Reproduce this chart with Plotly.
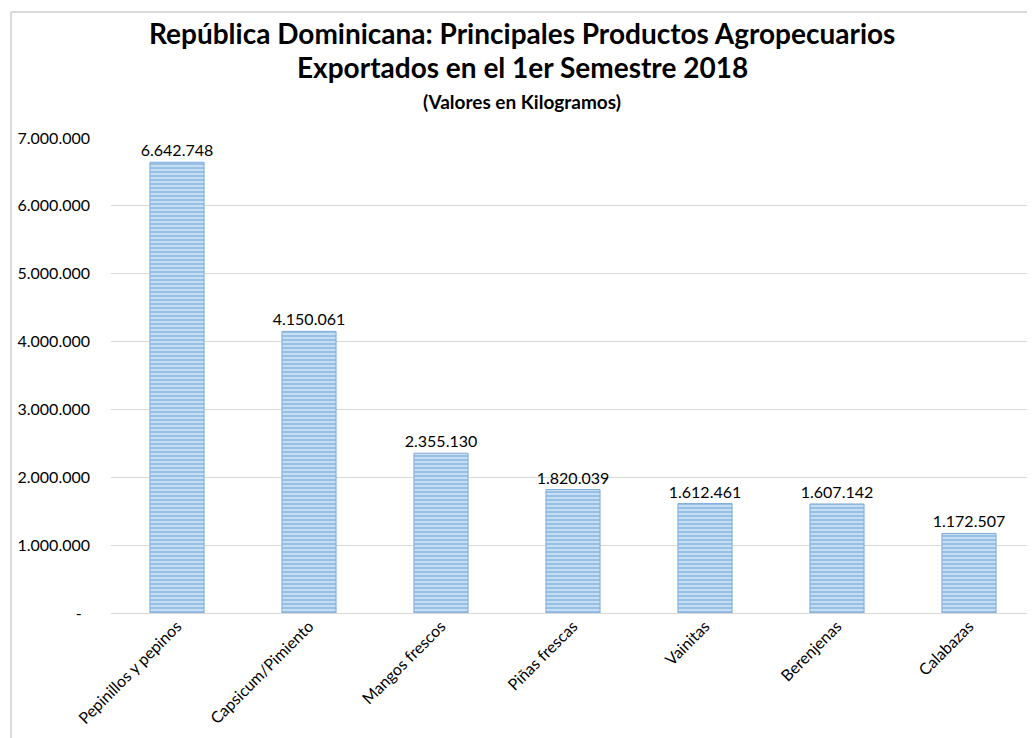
import plotly.graph_objects as go

categories = ["Pepinillos y pepinos", "Capsicum/Pimiento", "Mangos frescos",
              "Piñas frescas", "Vainitas", "Berenjenas", "Calabazas"]
values = [6642748, 4150061, 2355130, 1820039, 1612461, 1607142, 1172507]
tick_vals = [0, 1000000, 2000000, 3000000, 4000000, 5000000, 6000000, 7000000]
tick_text = ["-\u00a0\u00a0", "1.000.000", "2.000.000", "3.000.000", "4.000.000",
             "5.000.000", "6.000.000", "7.000.000"]

OFF = 8  # default page body margin
W, H = 1035 - OFF, 738 - OFF
ML, MR, MT, MB = 111 - OFF, 0, 138 - OFF, 125
PW, PH = W - ML - MR, H - MT - MB

def px_x(x):
    return (x - OFF - ML) / PW

def px_y(y):
    return (H - MB - (y - OFF)) / PH

FONT = "Lato, Carlito, Calibri, sans-serif"

fig = go.Figure(go.Bar(
    x=categories, y=values,
    width=0.41,
    marker=dict(
        color="#d3e4f5",
        line=dict(color="#7fabdc", width=1),
        pattern=dict(shape="-", fgcolor="#5b9bd5", bgcolor="#d3e4f5",
                     size=4, solidity=0.6),
    ),
    texttemplate="%{y:,}", textposition="outside",
    constraintext="none",
    textfont=dict(size=16, color="#000000", family=FONT),
    cliponaxis=False,
))

fig.update_layout(
    width=W, height=H,
    margin=dict(l=ML, r=MR, t=MT, b=MB),
    paper_bgcolor="white", plot_bgcolor="white",
    separators=",.",
    showlegend=False,
    font=dict(family=FONT, color="#000000"),
)
fig.update_yaxes(range=[0, 7000000], tickvals=tick_vals, ticktext=tick_text,
                 showgrid=True, gridcolor="#d9d9d9", gridwidth=1,
                 zeroline=True, zerolinecolor="#d9d9d9", zerolinewidth=1,
                 tickfont=dict(size=16, family=FONT, color="#000000"),
                 ticks="", ticklabelstandoff=20)
fig.update_xaxes(tickangle=-45, tickfont=dict(size=16, family=FONT, color="#000000"),
                 showline=False, ticks="")

fig.add_annotation(text="<b>República Dominicana: Principales Productos Agropecuarios</b>",
                   xref="paper", yref="paper", x=px_x(522), y=px_y(33),
                   showarrow=False, font=dict(size=28, family=FONT),
                   xanchor="center", yanchor="middle")
fig.add_annotation(text="<b>Exportados en el 1er Semestre 2018</b>",
                   xref="paper", yref="paper", x=px_x(522), y=px_y(67),
                   showarrow=False, font=dict(size=28, family=FONT),
                   xanchor="center", yanchor="middle")
fig.add_annotation(text="<b>(Valores en Kilogramos)</b>",
                   xref="paper", yref="paper", x=px_x(522), y=px_y(102),
                   showarrow=False, font=dict(size=19, family=FONT),
                   xanchor="center", yanchor="middle")

fig.add_shape(type="line", xref="paper", yref="paper",
              x0=px_x(11), x1=px_x(11), y0=px_y(12), y1=px_y(740),
              line=dict(color="#d9d9d9", width=2))
fig.add_shape(type="line", xref="paper", yref="paper",
              x0=px_x(11), x1=px_x(1035), y0=px_y(12), y1=px_y(12),
              line=dict(color="#d9d9d9", width=2))

fig.write_html("out.html")
